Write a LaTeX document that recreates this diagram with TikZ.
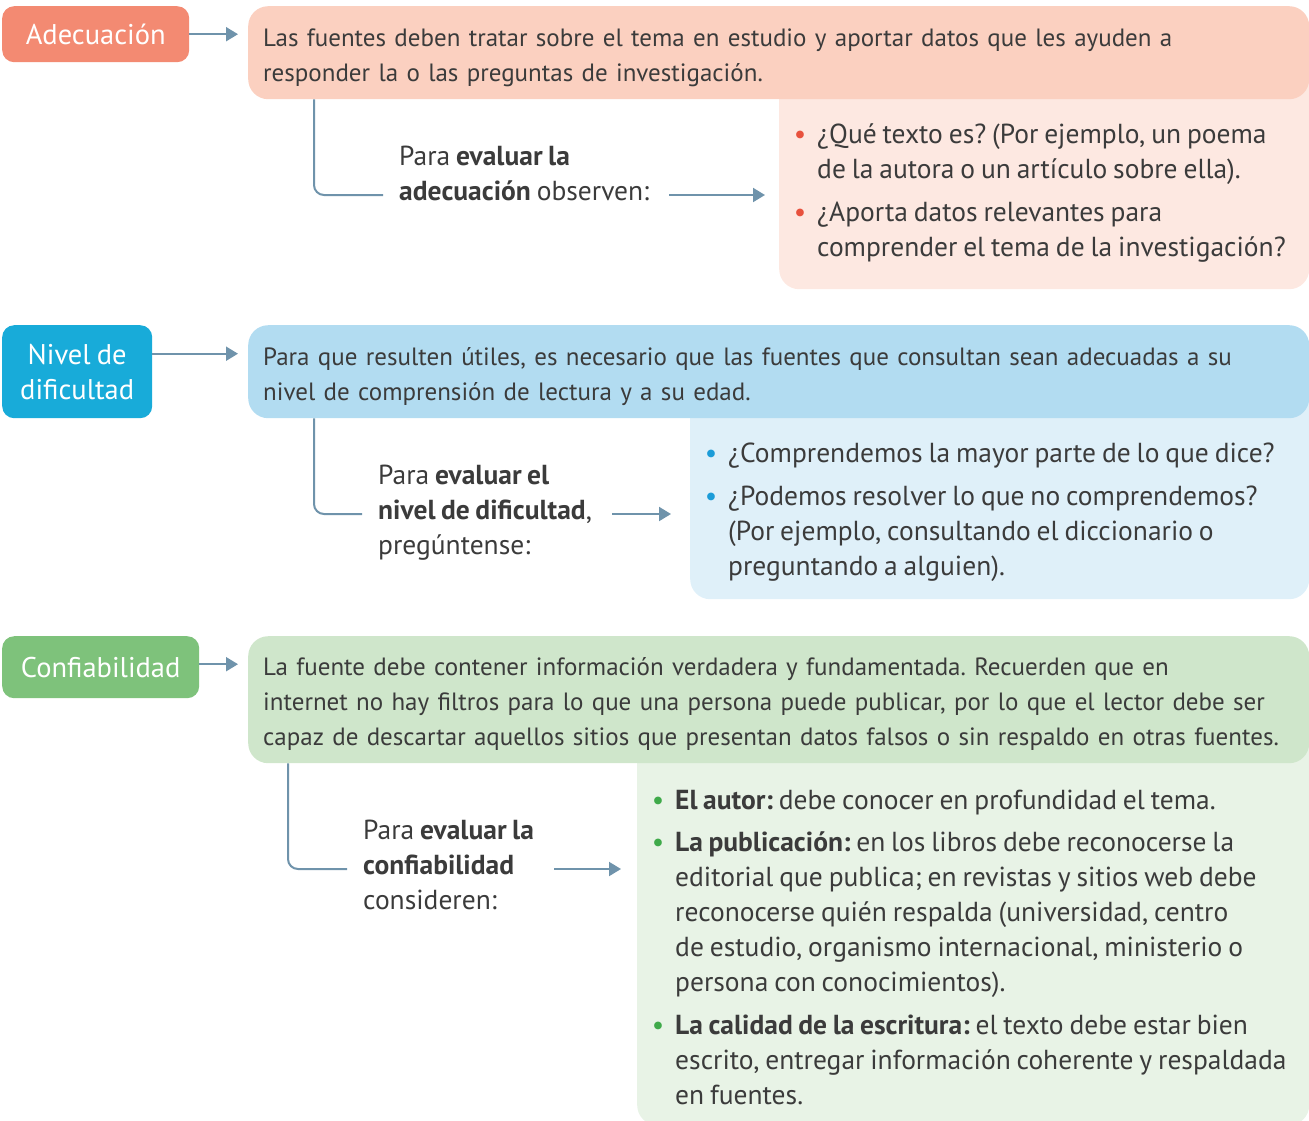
\documentclass[tikz,border=0pt]{standalone}
\usepackage{fontspec}
\setmainfont{PT Sans}[WordSpace=0.8]
\usetikzlibrary{arrows.meta}

\definecolor{adecDark}{HTML}{F38A72}
\definecolor{adecMid}{HTML}{FBD0C0}
\definecolor{adecLight}{HTML}{FDE8E1}
\definecolor{adecDot}{HTML}{E8513D}
\definecolor{nivelDark}{HTML}{18ABD9}
\definecolor{nivelMid}{HTML}{B2DCF1}
\definecolor{nivelLight}{HTML}{DFF0F9}
\definecolor{nivelDot}{HTML}{1B9CD8}
\definecolor{confDark}{HTML}{7EC27B}
\definecolor{confMid}{HTML}{CFE6CB}
\definecolor{confLight}{HTML}{E8F3E6}
\definecolor{confDot}{HTML}{3FAA4A}
\definecolor{linkCol}{HTML}{6F93AB}
\definecolor{txtCol}{HTML}{3B3B3B}

\newcommand\bodyfont{\fontsize{25}{35}\selectfont\frenchspacing}
\newcommand\askfont{\fontsize{27.5}{35}\selectfont\frenchspacing}
\newcommand\bul[1]{\leavevmode\llap{\textcolor{#1}{\textbullet}\hspace{11pt}}}

\tikzset{
  tag/.style={rounded corners=12pt, anchor=north west, text=white, align=center,
    inner sep=0pt, font=\fontsize{28.5}{35}\selectfont},
  info/.style={rounded corners=20pt, anchor=north west, minimum width=1061pt,
    text width=1031pt, text height=27pt, inner xsep=15pt, align=left, text=txtCol, font=\bodyfont},
  listbox/.style={rounded corners=20pt, anchor=north west},
  items/.style={anchor=base west, align=left, inner sep=0pt, text=txtCol, font=\askfont},
  ask/.style={anchor=base west, align=left, inner sep=0pt, text=txtCol, font=\askfont},
  link/.style={linkCol, line width=2pt, rounded corners=10pt},
  go/.style={linkCol, line width=2pt, -{Triangle[length=12pt,width=14pt]}},
}

\begin{document}
\begin{tikzpicture}[x=1pt,y=-1pt]

    \useasboundingbox (0,0) rectangle (1309,1120);

    % Adecuacion
    \node[listbox, fill=adecLight, minimum width=530pt, minimum height=190pt] (adecList) at (779,99) {};
    \fill[adecLight] ([yshift=20pt]adecList.north west) rectangle ([yshift=-21pt]adecList.north east);
    \node[info, fill=adecMid, minimum height=93pt] (adecBox) at (248,6)
        {Las fuentes deben tratar sobre el tema en estudio y aportar datos que les ayuden a\\
         responder la o las preguntas de investigación.};
    \node[tag, fill=adecDark, minimum width=187pt, minimum height=56pt] (adec) at (2,6) {Adecuación};
    \draw[go, shorten >=10pt] (adec.east) -- (adec.east -| adecBox.west);

    \coordinate (adecKnee) at (314,195);
    \node[ask] (adecAsk) at (399,200) {Para \textbf{evaluar la}\\ \textbf{adecuación} observen:};
    \draw[link] (adecBox.south -| adecKnee) |- ([xshift=-16pt]adecAsk.west |- adecKnee);
    \draw[go, shorten >=14pt] ([xshift=20pt]adecAsk.east |- adecKnee) -- (adecList.west |- adecKnee);
    \node[items] (adecItems) at (817,256)
        {\bul{adecDot}¿Qué texto es? (Por ejemplo, un poema\\
         de la autora o un artículo sobre ella).\\[8pt]
         \bul{adecDot}¿Aporta datos relevantes para\\
         comprender el tema de la investigación?};

    % Nivel de dificultad
    \node[listbox, fill=nivelLight, minimum width=619pt, minimum height=181pt] (nivelList) at (690,418) {};
    \fill[nivelLight] ([yshift=20pt]nivelList.north west) rectangle ([yshift=-21pt]nivelList.north east);
    \node[info, fill=nivelMid, minimum height=93pt] (nivelBox) at (248,325)
        {Para que resulten útiles, es necesario que las fuentes que consultan sean adecuadas a su\\
         nivel de comprensión de lectura y a su edad.};
    \node[tag, fill=nivelDark, minimum width=150pt, minimum height=93pt] (nivel) at (2,325) {Nivel de\\ dificultad};
    \draw[go, shorten >=10pt] ([yshift=18pt]nivel.east) -- ([yshift=18pt]nivel.east -| nivelBox.west);

    \coordinate (nivelKnee) at (314,514);
    \node[ask] (nivelAsk) at (378,554) {Para \textbf{evaluar el}\\ \textbf{nivel de dificultad},\\ pregúntense:};
    \draw[link] (nivelBox.south -| nivelKnee) |- ([xshift=-16pt]nivelAsk.west |- nivelKnee);
    \draw[go, shorten >=19pt] ([xshift=20pt]nivelAsk.east |- nivelKnee) -- (nivelList.west |- nivelKnee);
    \node[items] (nivelItems) at (728,575)
        {\bul{nivelDot}¿Comprendemos la mayor parte de lo que dice?\\[8pt]
         \bul{nivelDot}¿Podemos resolver lo que no comprendemos?\\
         (Por ejemplo, consultando el diccionario o\\
         preguntando a alguien).};

    % Confiabilidad
    \node[listbox, fill=confLight, minimum width=672pt, minimum height=362pt] (confList) at (637,763) {};
    \fill[confLight] ([yshift=20pt]confList.north west) rectangle ([yshift=-21pt]confList.north east);
    \node[info, fill=confMid, minimum height=127pt] (confBox) at (248,636)
        {La fuente debe contener información verdadera y fundamentada. Recuerden que en\\
         internet no hay filtros para lo que una persona puede publicar, por lo que el lector debe ser\\
         capaz de descartar aquellos sitios que presentan datos falsos o sin respaldo en otras fuentes.};
    \node[tag, fill=confDark, minimum width=197pt, minimum height=62pt] (conf) at (2,636) {Confiabilidad};
    \draw[go, shorten >=10pt] ([yshift=3pt]conf.east) -- ([yshift=3pt]conf.east -| confBox.west);

    \coordinate (confKnee) at (288,869);
    \node[ask] (confAsk) at (363,909) {Para \textbf{evaluar la}\\ \textbf{confiabilidad}\\ consideren:};
    \draw[link] (confBox.south -| confKnee) |- ([xshift=-16pt]confAsk.west |- confKnee);
    \draw[go, shorten >=16pt] ([xshift=20pt]confAsk.east |- confKnee) -- (confList.west |- confKnee);
    \node[items] (confItems) at (675,1104)
        {\bul{confDot}\textbf{El autor:} debe conocer en profundidad el tema.\\[7pt]
         \bul{confDot}\textbf{La publicación:} en los libros debe reconocerse la\\
         editorial que publica; en revistas y sitios web debe\\
         reconocerse quién respalda (universidad, centro\\
         de estudio, organismo internacional, ministerio o\\
         persona con conocimientos).\\[8pt]
         \bul{confDot}\textbf{La calidad de la escritura:} el texto debe estar bien\\
         escrito, entregar información coherente y respaldada\\
         en fuentes.};

\end{tikzpicture}
\end{document}
